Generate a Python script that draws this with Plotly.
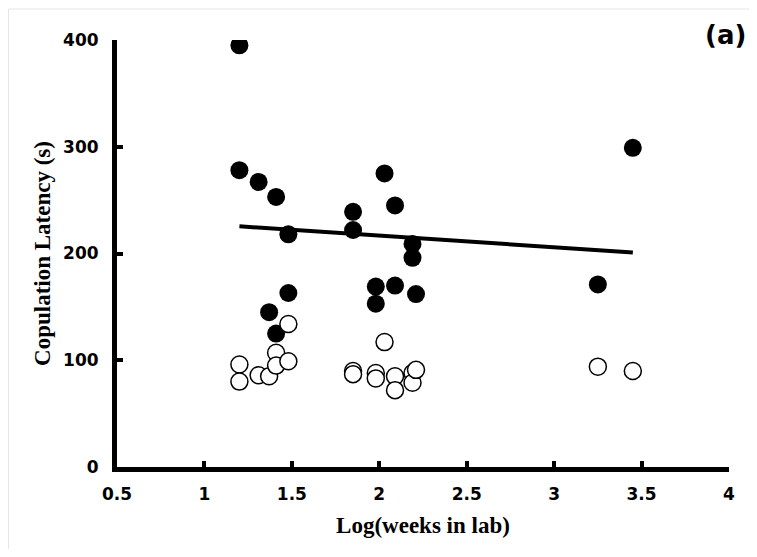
import plotly.graph_objects as go

# Filled circles
x_filled = [1.20, 1.20, 1.31, 1.41, 1.48, 1.48, 1.37, 1.41, 1.85, 1.85,
            2.03, 2.09, 2.19, 2.19, 1.98, 2.09, 2.21, 1.98, 3.25, 3.45]
y_filled = [395, 278, 267, 253, 218, 163, 145, 125, 239, 222,
            275, 245, 209, 196, 169, 170, 162, 153, 171, 299]

# Open circles
x_open = [1.20, 1.20, 1.31, 1.37, 1.41, 1.41, 1.48, 1.48, 2.03, 1.85,
          1.85, 1.98, 1.98, 2.09, 2.09, 2.19, 2.19, 2.21, 3.25, 3.45]
y_open = [96, 80, 86, 85, 107, 95, 99, 134, 117, 90,
          87, 88, 83, 85, 72, 88, 79, 91, 94, 90]

# Trend line endpoints
x_trend = [1.20, 3.45]
y_trend = [225.5, 201]

x_ticks = [0.5, 1, 1.5, 2, 2.5, 3, 3.5, 4]
x_ticklabels = ["0.5", "1", "1.5", "2", "2.5", "3", "3.5", "4"]
y_ticks = [0, 100, 200, 300, 400]
y_ticklabels = ["0", "100", "200", "300", "400"]

W, H = 741, 541
L, R, T, B = 109, 20, 32, 82
PW = W - L - R
PH = H - T - B

fig = go.Figure()
fig.add_trace(go.Scatter(x=x_filled, y=y_filled, mode="markers",
                         marker=dict(size=18, color="black", line=dict(color="black", width=0)),
                         showlegend=False, name="filled"))
fig.add_trace(go.Scatter(x=x_trend, y=y_trend, mode="lines",
                         line=dict(color="black", width=4), showlegend=False, name="trend"))
fig.add_trace(go.Scatter(x=x_open, y=y_open, mode="markers",
                         marker=dict(size=17, color="white", line=dict(color="black", width=1.5)),
                         showlegend=False, name="open"))

tickfont = dict(family="DejaVu Sans", size=17, color="black", weight="bold")
titlefont = dict(family="Liberation Serif", size=23, color="black", weight="bold")

fig.update_layout(
    width=W, height=H,
    margin=dict(l=L, r=R, t=T, b=B, autoexpand=False),
    paper_bgcolor="white", plot_bgcolor="white",
    showlegend=False,
    xaxis=dict(range=[0.5, 4], tickvals=x_ticks, ticktext=x_ticklabels,
               showgrid=False, zeroline=False, showline=True, linecolor="black", linewidth=5,
               ticks="inside", ticklen=6, tickwidth=4, tickcolor="black",
               tickfont=tickfont, ticklabelstandoff=8,
               title=dict(text="Log(weeks in lab)", font=titlefont, standoff=15),
               automargin=False),
    yaxis=dict(range=[0, 400], tickvals=y_ticks, ticktext=y_ticklabels,
               showgrid=False, zeroline=False, showline=True, linecolor="black", linewidth=5,
               ticks="inside", ticklen=6, tickwidth=4, tickcolor="black",
               tickfont=tickfont, ticklabelstandoff=10,
               title=dict(text="Copulation Latency (s)", font=titlefont, standoff=8),
               automargin=False),
    annotations=[dict(text="(a)", x=1 + 19 / PW, y=1 + 5 / PH, xref="paper", yref="paper",
                      xanchor="right", yanchor="middle", showarrow=False,
                      font=dict(family="DejaVu Sans", size=26, color="black", weight="bold"))],
    shapes=[
        dict(type="line", xref="paper", yref="paper", x0=(0.5 - L) / PW, x1=(W - L) / PW,
             y0=(PH + T - 1) / PH, y1=(PH + T - 1) / PH, line=dict(color="#e6e6e6", width=1)),
        dict(type="line", xref="paper", yref="paper", x0=(0.5 - L) / PW, x1=(0.5 - L) / PW,
             y0=(PH + T - 1) / PH, y1=-B / PH, line=dict(color="#e6e6e6", width=1)),
    ],
)

fig.write_html("out.html")
